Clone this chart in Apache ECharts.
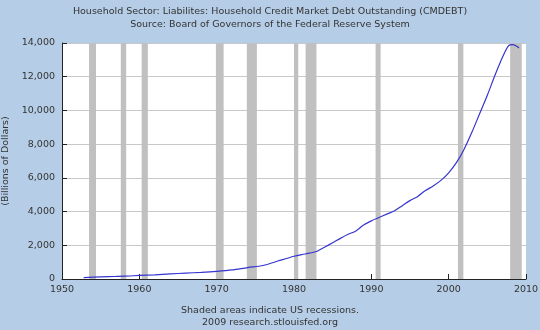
<!DOCTYPE html>
<html><head><meta charset="utf-8">
<script src="https://cdn.jsdelivr.net/npm/echarts@6/dist/echarts.min.js"></script>
<style>html,body{margin:0;padding:0;background:#b5cde6}#c{width:540px;height:330px}</style>
</head><body><div id="c"></div>
<script>
var years = [1952.8,1954,1956,1958,1960,1962,1964,1966,1968,1970,1972,1974,1976,1978,1980,1981,1982,1983,1984,1985,1986,1987,1988,1989,1990,1991,1992,1993,1994,1995,1996,1997,1998,1999,2000,2001,2002,2003,2004,2005,2006,2007,2007.75,2008.25,2008.75,2009.1];
var debt = [85,110,140,165,210,250,300,350,395,455,540,680,800,1080,1350,1450,1530,1650,1900,2150,2410,2650,2850,3200,3450,3650,3850,4050,4350,4650,4900,5250,5520,5850,6300,6900,7700,8700,9800,10900,12100,13200,13850,13900,13820,13700];
var recStart = [1953.5,1957.6,1960.3,1969.9,1973.9,1980.0,1981.5,1990.55,2001.2,2007.95];
var recEnd   = [1954.4,1958.3,1961.1,1970.9,1975.2,1980.55,1982.9,1991.2,2001.9,2009.45];
var xTicks = [1950,1960,1970,1980,1990,2000,2010];
var titleText = 'Household Sector: Liabilites: Household Credit Market Debt Outstanding (CMDEBT)\nSource: Board of Governors of the Federal Reserve System';
var footText = 'Shaded areas indicate US recessions.\n2009 research.stlouisfed.org';
var yName = '(Billions of Dollars)';

var FONT = 'DejaVu Sans';
var chart = echarts.init(document.getElementById('c'), null, {renderer:'canvas'});
var areas = recStart.map(function(s,i){return [{xAxis:s},{xAxis:recEnd[i]}];});
chart.setOption({
  backgroundColor:'#b5cde6',
  animation:false,
  title:[
    {text:titleText,left:'center',top:0,textStyle:{fontFamily:FONT,fontSize:9.5,fontWeight:'normal',color:'#333',lineHeight:13}},
    {text:footText,left:'center',top:300,textStyle:{fontFamily:FONT,fontSize:9.5,fontWeight:'normal',color:'#333',lineHeight:12}}
  ],
  grid:{left:62,right:14,top:43,bottom:51,backgroundColor:'#fff',show:true,borderWidth:0,containLabel:false,outerBoundsMode:'none'},
  xAxis:{type:'value',min:1950,max:2010,interval:10,
    axisLine:{lineStyle:{color:'#222',width:1}},
    axisTick:{inside:true,length:5,lineStyle:{color:'#222'}},
    axisLabel:{fontFamily:FONT,fontSize:9.5,color:'#333',margin:6,formatter:function(v){return xTicks.indexOf(v)>=0?String(v):'';}},
    splitLine:{show:false}},
  yAxis:{type:'value',min:0,max:14000,interval:2000,
    name:yName,nameLocation:'middle',nameGap:40,nameRotate:90,
    nameTextStyle:{fontFamily:FONT,fontSize:9.5,color:'#333'},
    axisLine:{show:true,lineStyle:{color:'#222',width:1}},
    axisTick:{show:true,inside:true,length:5,lineStyle:{color:'#222'}},
    axisLabel:{fontFamily:FONT,fontSize:9.5,color:'#333',margin:7,formatter:function(v){return v.toLocaleString('en-US');}},
    splitLine:{show:true,lineStyle:{color:'#c8c8c8',width:1}}},
  series:[{type:'line',data:years.map(function(y,i){return [y,debt[i]];}),
    showSymbol:false,smooth:0.3,lineStyle:{color:'#3535d0',width:1.2},
    markArea:{silent:true,itemStyle:{color:'#c0c0c0'},data:areas},
    z:3}]
});
</script></body></html>
